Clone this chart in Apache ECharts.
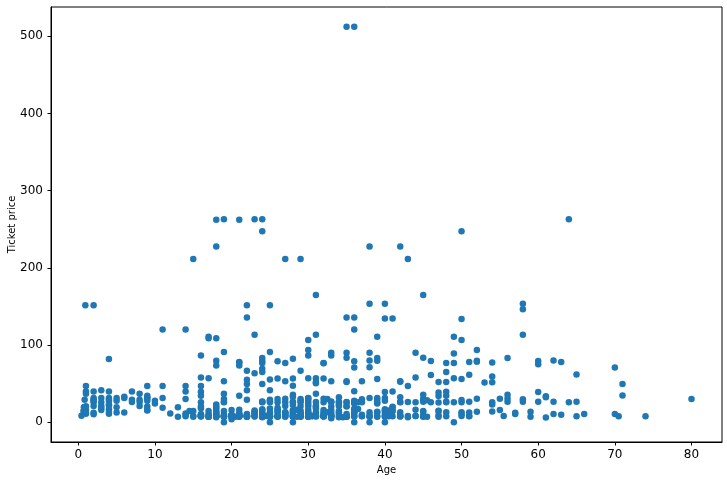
<!DOCTYPE html>
<html>
<head>
<meta charset="utf-8">
<script src="https://cdn.jsdelivr.net/npm/echarts@6/dist/echarts.min.js"></script>
<style>html,body{margin:0;padding:0;background:#fff}#c{width:727px;height:483px}</style>
</head>
<body>
<div id="c"></div>
<script>
// [age, ticket price] pairs, grouped by age band
var age0to9 = [
  [0.42,8.52],[0.67,14.5],[0.75,19.26],[0.75,19.26],[0.83,29],[0.83,18.75],[0.92,151.55],
  [1,11.13],[1,39.69],[1,46.9],[1,15.74],[1,20.58],[1,37],[1,12.18],
  [2,39.69],[2,31.28],[2,29.13],[2,27.9],[2,26],[2,21.08],[2,10.46],[2,12.29],[2,151.55],
  [3,41.58],[3,31.39],[3,26],[3,21.08],[3,15.9],[3,18.75],
  [4,81.86],[4,39.69],[4,31.28],[4,29.13],[4,27.9],[4,23],[4,16.7],[4,11.13],[4,22.03],[4,13.42],
  [5,31.39],[5,27.75],[5,19.26],[5,12.48],
  [6,33],[6,31.28],[6,12.48],
  [7,39.69],[7,29.13],[7,26.25],
  [8,36.75],[8,29.13],[8,26.25],[8,21.08],
  [9,46.9],[9,34.38],[9,31.39],[9,31.28],[9,27.9],[9,20.53],[9,15.25],[9,15.9]
];
var age10to19 = [
  [10,27.9],[10,24.15],
  [11,120],[11,46.9],[11,31.28],[11,18.79],
  [12,11.24],
  [13,19.5],[13,7.23],
  [14,120],[14,46.9],[14,39.69],[14,30.07],[14,11.24],[14,7.85],[14,9.23],[14.5,14.45],
  [15,211.34],[15,14.45],[15,8.03],[15,7.23],
  [16,86.5],[16,57.98],[16,46.9],[16,39.4],[16,34.38],[16,26],[16,20.25],[16,18],[16,10.5],[16,9.22],[16,8.05],[16,7.75],[16,7.73],[16,9.5],[16,7.65],
  [17,110.88],[17,108.9],[17,57],[17,14.46],[17,10.5],[17,8.66],[17,7.23],[17,7.13],[17,7.05],
  [18,262.38],[18,227.53],[18,108.9],[18,79.65],[18,73.5],[18,23],[18,18],[18,14.45],[18,13],[18,11.5],[18,9.35],[18,8.05],[18,7.78],[18,7.75],[18,6.5],[18,20.21],
  [19,263],[19,91.08],[19,53.1],[19,36.75],[19,30],[19,26],[19,26.28],[19,14.5],[19,10.17],[19,8.05],[19,7.88],[19,7.78],[19,7.65],[19,6.75],[19,0]
];
var age20to29 = [
  [20,15.74],[20,9.5],[20,9.22],[20,8.66],[20,7.93],[20,7.85],[20,7.23],[20,7.05],[20,4.01],[20,9.84],[20.5,7.25],
  [21,262.38],[21,77.96],[21,77.29],[21,73.5],[21,34.38],[21,16.1],[21,11.5],[21,10.5],[21,8.43],[21,8.05],[21,7.8],[21,7.73],[21,7.25],[21,9.83],
  [22,151.55],[22,135.63],[22,66.6],[22,55],[22,49.5],[22,41.58],[22,29],[22,10.5],[22,9.35],[22,9],[22,8.05],[22,7.8],[22,7.75],[22,7.23],[22,7.52],[22,7.25],
  [23,263],[23,113.28],[23,63.36],[23,15.05],[23,13.79],[23,13],[23,10.5],[23,9.22],[23,7.85],[23,7.55],
  [24,263],[24,247.52],[24,83.16],[24,79.2],[24,76.73],[24,69.3],[24,65],[24,49.5],[24,27],[24,26],[24,16.7],[24,15.85],[24,13],[24,10.5],[24,9.5],[24,8.05],[24,7.85],[24,7.14],[24,7.05],[24,7.5],[24,6.5],[24,26.25],[24.5,8.05],
  [25,151.55],[25,91.08],[25,55.44],[25,41.58],[25,29],[25,26],[25,17.8],[25,13],[25,10.5],[25,7.9],[25,7.78],[25,7.74],[25,7.65],[25,7.05],[25,0],[25,7.23],[25,27.9],
  [26,78.85],[26,56.5],[26,30],[26,26],[26,18.79],[26,16.1],[26,14.45],[26,13],[26,8.66],[26,7.89],[26,7.78],[26,7.23],[26,7.85],
  [27,211.5],[27,76.73],[27,53.1],[27,30.5],[27,26],[27,21],[27,13],[27,11.13],[27,10.5],[27,8.66],[27,7.79],[27,6.97],[27,12.48],
  [28,82.17],[28,56.5],[28,47.1],[28,35.5],[28,33],[28,26.55],[28,26],[28,22.53],[28,15.85],[28,14.4],[28,13],[28,10.5],[28,9.5],[28,7.9],[28,7.8],[28,7.25],[28,0],[28.5,7.23],[28.5,16.1],
  [29,211.34],[29,66.6],[29,30],[29,27.72],[29,26],[29,21],[29,15.05],[29,13],[29,10.46],[29,9.48],[29,7.88],[29,7.78],[29,7.05],[29,7.75]
];
var age30to39 = [
  [30,106.43],[30,93.5],[30,86.5],[30,56.93],[30,31],[30,27.75],[30,24.15],[30,21],[30,16.1],[30,13],[30,12.48],[30,10.5],[30,9.5],[30,8.66],[30,7.9],[30,7.75],[30,7.23],[30,7.63],[30,6.95],[30,31.39],[30.5,8.05],[30.5,7.75],
  [31,164.87],[31,113.28],[31,57],[31,52],[31,50.5],[31,37],[31,26.25],[31,21],[31,20.53],[31,18],[31,13],[31,10.5],[31,9],[31,7.85],[31,7.75],[31,7.73],
  [32,76.73],[32,76.29],[32,56.5],[32,30.5],[32,26],[32,15.85],[32,13],[32,10.5],[32,8.36],[32,8.05],[32,7.93],[32,7.85],[32,7.75],[32,7.58],[32,7.9],[32.5,30.07],[32.5,13],
  [33,90],[33,86.5],[33,53.1],[33,27],[33,26],[33,20.53],[33,15.85],[33,12.28],[33,9.5],[33,8.65],[33,7.9],[33,7.78],[33,5],
  [34,32.5],[34,26.55],[34,26],[34,23],[34,21],[34,14.4],[34,13],[34,10.5],[34,8.05],[34,6.5],[34.5,6.44],
  [35,512.33],[35,135.63],[35,90],[35,83.48],[35,53.1],[35,52],[35,26.29],[35,26],[35,21],[35,20.25],[35,10.5],[35,8.05],[35,7.05],[35,7.13],[35,7.9],
  [36,512.33],[36,135.63],[36,120],[36,78.85],[36,71],[36,40.13],[36,27.75],[36,26.39],[36,26],[36,24.15],[36,17.4],[36,13],[36,12.88],[36,10.5],[36,7.9],[36,7.5],[36,0],[36,15.55],[36.5,26],[36.5,17],
  [37,53.1],[37,29.7],[37,26],[37,9.59],[37,7.93],[37,7.75],
  [38,227.53],[38,153.46],[38,90],[38,80],[38,71.28],[38,31.39],[38,13],[38,8.66],[38,7.9],[38,7.23],[38,0],
  [39,110.88],[39,83.16],[39,79.65],[39,55.9],[39,31.28],[39,29.13],[39,26],[39,24.15],[39,13],[39,13.42],[39,7.93],[39,7.23]
];
var age40to49 = [
  [40,153.46],[40,134.5],[40,39],[40,31.28],[40,27.72],[40,15.5],[40,13],[40,9.48],[40,7.9],[40,7.23],[40,0],[40,16.7],[40.5,15.1],[40.5,7.75],
  [41,134.5],[41,39.69],[41,20.21],[41,19.5],[41,14.11],[41,7.85],[41,15.05],
  [42,227.53],[42,53.1],[42,52.55],[42,32.5],[42,26.29],[42,26],[42,13],[42,8.66],[42,8.4],[42,7.55],[42,7.65],
  [43,211.34],[43,46.9],[43,26.25],[43,8.05],[43,6.45],
  [44,90],[44,57.98],[44,26],[44,16.1],[44,8.05],[44,7.93],
  [45,164.87],[45,83.48],[45,35.5],[45,30],[45,28.5],[45,26.55],[45,14.45],[45,13.5],[45,8.05],[45,7.75],[45,6.98],[45.5,7.23],[45.5,28.5],
  [46,79.2],[46,61.17],[46,26],
  [47,52],[47,38.5],[47,34.02],[47,25.59],[47,15],[47,14.5],[47,9],[47,7.25],
  [48,76.73],[48,65],[48,52],[48,39.6],[48,34.38],[48,26.55],[48,25.93],[48,13],[48,7.85],
  [49,110.88],[49,89.1],[49,76.73],[49,56.93],[49,25.93],[49,0]
];
var age50plus = [
  [50,247.52],[50,133.65],[50,106.43],[50,55.9],[50,28.71],[50,26],[50,13],[50,10.5],[50,8.05],
  [51,77.96],[51,61.38],[51,26.55],[51,12.53],[51,8.05],[51,7.75],
  [52,93.5],[52,79.65],[52,78.27],[52,30.5],[52,13.5],
  [53,51.48],
  [54,77.29],[54,59.4],[54,51.86],[54,26],[54,23],[54,14],
  [55,30.5],[55,16],[55.5,8.05],
  [56,83.16],[56,35.5],[56,30.7],[56,26.55],
  [57,12.35],[57,10.5],
  [58,153.46],[58,146.52],[58,113.28],[58,29.7],[58,26.55],
  [59,13.5],[59,7.25],
  [60,79.2],[60,75.25],[60,39],[60,26.55],
  [61,33.5],[61,32.32],[61,6.24],
  [62,80],[62,26.55],[62,10.5],
  [63,77.96],[63,9.59],
  [64,263],[64,26],
  [65,61.98],[65,26.55],[65,7.75],
  [66,10.5],
  [70,71],[70,10.5],[70.5,7.75],
  [71,49.5],[71,34.65],
  [74,7.78],
  [80,30]
];
var xTicks = [0,10,20,30,40,50,60,70,80];
var yTicks = [0,100,200,300,400,500];

var allPoints = [].concat(age0to9, age10to19, age20to29, age30to39, age40to49, age50plus);
var xs = allPoints.map(function(p){return p[0];});
var ys = allPoints.map(function(p){return p[1];});
var xMinD = Math.min.apply(null, xs), xMaxD = Math.max.apply(null, xs);
var yMinD = Math.min.apply(null, ys), yMaxD = Math.max.apply(null, ys);
var xPad = (xMaxD - xMinD) * 0.05, yPad = (yMaxD - yMinD) * 0.05;

var chart = echarts.init(document.getElementById('c'), null, {renderer: 'canvas'});
var axisTxt = {color: '#000', fontFamily: 'DejaVu Sans', fontSize: 12};
chart.setOption({
  animation: false,
  backgroundColor: '#fff',
  grid: {left: 51, right: 5, top: 7, bottom: 41, outerBoundsMode: 'none', containLabel: false,
         show: true, borderColor: '#000', borderWidth: 1, backgroundColor: 'transparent'},
  xAxis: {
    type: 'value', min: xMinD - xPad, max: xMaxD + xPad,
    name: 'Age', nameLocation: 'middle', nameGap: 23, nameMoveOverlap: false,
    nameTextStyle: {color: '#000', fontFamily: 'DejaVu Sans', fontSize: 10},
    axisLine: {show: true, onZero: false, lineStyle: {color: '#000', width: 1}},
    axisTick: {show: true, length: 3.5, lineStyle: {color: '#000'}, customValues: xTicks},
    axisLabel: Object.assign({margin: 7, customValues: xTicks, formatter: function(v){return String(v);}}, axisTxt),
    splitLine: {show: false}
  },
  yAxis: {
    type: 'value', min: yMinD - yPad, max: yMaxD + yPad,
    name: 'Ticket price', nameLocation: 'middle', nameGap: 34, nameMoveOverlap: false,
    nameTextStyle: {color: '#000', fontFamily: 'DejaVu Sans', fontSize: 10},
    axisLine: {show: true, onZero: false, lineStyle: {color: '#000', width: 1}},
    axisTick: {show: true, length: 3.5, lineStyle: {color: '#000'}, customValues: yTicks},
    axisLabel: Object.assign({margin: 8, customValues: yTicks, formatter: function(v){return String(v);}}, axisTxt),
    splitLine: {show: false}
  },
  series: [{
    type: 'scatter',
    data: allPoints,
    symbol: 'circle',
    symbolSize: 6.5,
    itemStyle: {color: '#1f77b4', opacity: 1},
    emphasis: {disabled: true}
  }]
});
</script>
</body>
</html>
